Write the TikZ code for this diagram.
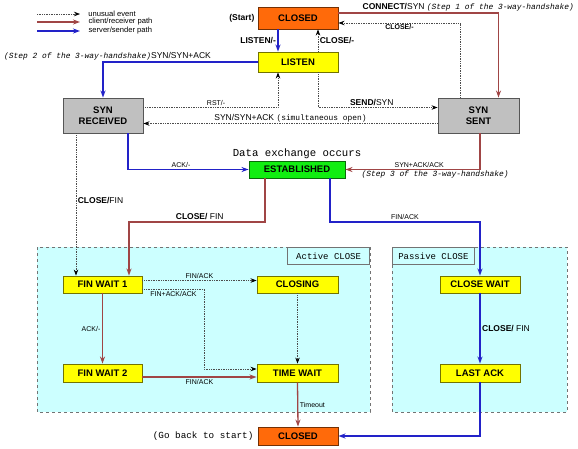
\documentclass[tikz,border=0pt]{standalone}
\usepackage{fontspec}
\setmainfont{Liberation Sans}
\setmonofont{Liberation Mono}
\usetikzlibrary{arrows.meta}

\definecolor{clientred}{HTML}{A04545}
\definecolor{serverblue}{HTML}{2222C8}
\definecolor{closedorange}{HTML}{FF6A0A}
\definecolor{stateyellow}{HTML}{FFFF00}
\definecolor{stategray}{HTML}{C0C0C0}
\definecolor{stategreen}{HTML}{11EE11}
\definecolor{zonecyan}{HTML}{CCFFFF}

\newcommand{\stepnote}[1]{{\ttfamily\itshape\fontsize{7.9}{9}\selectfont #1}}
\newcommand{\mononote}[1]{{\ttfamily\fontsize{7.9}{9}\selectfont #1}}

\tikzset{
  state/.style={draw=#1!45!black, fill=#1, line width=0.9pt, minimum width=80pt,
    minimum height=18pt, inner sep=1pt, align=center,
    font=\bfseries\fontsize{9.5}{11.5}\selectfont},
  unusual/.style={draw=black!70, densely dotted, line width=0.7pt,
    -{Stealth[length=6pt,width=4.5pt,black]}},
  client/.style={draw=clientred, line width=1.3pt, -{Stealth[length=7pt,width=5pt]}},
  server/.style={draw=serverblue, line width=1.3pt, -{Stealth[length=7pt,width=5pt]}},
  zone/.style={draw=black!55, dashed, fill=zonecyan, line width=0.7pt},
  zonetag/.style={draw=black!55, fill=zonecyan, line width=0.7pt, minimum width=82pt,
    minimum height=17pt, inner sep=2pt, font=\ttfamily\fontsize{9}{10}\selectfont},
  lbl/.style={inner sep=1.5pt, font=\fontsize{8.5}{10}\selectfont},
  slbl/.style={inner sep=1.5pt, font=\fontsize{7}{8}\selectfont},
  blbl/.style={inner sep=1.5pt, font=\bfseries\fontsize{8.5}{10}\selectfont},
  legend/.style={inner sep=1pt, font=\fontsize{7.6}{8}\selectfont}
}

\begin{document}
\begin{tikzpicture}[x=1pt,y=-1pt]
  \useasboundingbox (0,0) rectangle (578,448);
  % legend
  \draw[unusual] (37,14) -- (80,14) node[right, legend, xshift=7pt]{unusual event};
  \draw[client] (37,22) -- (80,22) node[right, legend, xshift=7pt]{client/receiver path};
  \draw[server] (37,31) -- (80,31) node[right, legend, xshift=7pt]{server/sender path};

  % close areas
  \draw[zone] (37,247) rectangle (370,412);
  \node[zonetag, anchor=north east] (activetag) at (370,247) {Active CLOSE};
  \draw[zone] (392,247) rectangle (567,412);
  \node[zonetag, anchor=north west] (passivetag) at (392,247) {Passive CLOSE};

  % states
  \node[state=closedorange, minimum height=22pt] (closed) at (298,18) {CLOSED};
  \node[state=stateyellow, minimum height=20pt] (listen) at (298,62) {LISTEN};
  \node[state=stategray, minimum height=35pt] (synrcvd) at (103,115.5) {SYN\\RECEIVED};
  \node[state=stategray, minimum height=35pt, minimum width=81pt] (synsent) at (478.5,115.5) {SYN\\SENT};
  \node[state=stategreen, minimum width=96pt, minimum height=17pt] (estab) at (297,169.5) {ESTABLISHED};
  \node[state=stateyellow, minimum width=79pt, minimum height=17pt] (finwaitone) at (102.5,284.5) {FIN WAIT 1};
  \node[state=stateyellow, minimum width=81pt, minimum height=17pt] (closing) at (297.5,284.5) {CLOSING};
  \node[state=stateyellow, minimum width=79pt] (finwaittwo) at (102.5,373) {FIN WAIT 2};
  \node[state=stateyellow, minimum width=81pt] (timewait) at (297.5,373) {TIME WAIT};
  \node[state=stateyellow, minimum height=17pt] (closewait) at (480,284.5) {CLOSE WAIT};
  \node[state=stateyellow] (lastack) at (480,373) {LAST ACK};
  \node[state=closedorange] (closedend) at (298,436) {CLOSED};

  \node[left, blbl, inner sep=3pt] (startnote) at (closed.west) {(Start)};
  \node[above, inner sep=1.5pt, font=\ttfamily\fontsize{10.7}{12}\selectfont] (datanote) at (estab.north) {Data exchange occurs};
  \node[left, inner sep=4pt, font=\ttfamily\fontsize{9.3}{11}\selectfont] (gobacknote) at (closedend.west) {(Go back to start)};

  % opening
  \draw[server] ([xshift=-20pt]closed.south) -- ([xshift=-20pt]listen.north) node[midway, left, blbl]{LISTEN/-};
  \draw[unusual] ([xshift=20pt]listen.north) -- ([xshift=20pt]closed.south) node[midway, right, blbl]{CLOSE/-};
  \draw[client] ([yshift=5pt]closed.east) -| ([xshift=20pt]synsent.north)
    node[pos=0.069, anchor=south west, lbl]{{\bfseries CONNECT/}SYN \stepnote{(Step 1 of the 3-way-handshake)}};
  \draw[unusual] ([xshift=-18pt]synsent.north) |- ([yshift=-5pt]closed.east)
    node[pos=0.75, below, slbl, font=\bfseries\fontsize{7}{8}\selectfont]{CLOSE/-};
  \draw[server] (listen.west) -| (synrcvd.north)
    node[pos=0.5, above, xshift=4.5pt, lbl]{\stepnote{(Step 2 of the 3-way-handshake)}SYN/SYN+ACK};
  \draw[unusual] ([yshift=8pt]synrcvd.east) -| ([xshift=-20pt]listen.south) node[pos=0.27, above, slbl]{RST/-};
  \draw[unusual] ([xshift=20pt]listen.south) |- ([yshift=8pt]synsent.west) node[pos=0.725, above, lbl]{{\bfseries SEND/}SYN};
  \draw[unusual] ([yshift=-8pt]synsent.west) -- ([yshift=-8pt]synrcvd.east)
    node[midway, above, lbl]{SYN/SYN+ACK \mononote{(simultaneous open)}};
  \draw[server] ([xshift=25pt]synrcvd.south) |- (estab.west) node[pos=0.72, above, slbl]{ACK/-};
  \draw[client] ([xshift=1.5pt]synsent.south) |- (estab.east)
    node[pos=0.726, above, slbl]{SYN+ACK/ACK}
    node[pos=0.667, below, inner sep=1pt]{\stepnote{(Step 3 of the 3-way-handshake)}};

  % closing
  \coordinate (splitlevel) at (0,222);
  \coordinate (rcvdout) at ([xshift=-27pt]synrcvd.south);
  \coordinate (finin) at ([xshift=26.5pt]finwaitone.north);
  \draw[unusual] (rcvdout) -- (rcvdout |- finwaitone.north) node[pos=0.47, right, lbl]{{\bfseries CLOSE/}FIN};
  \draw[client] ([xshift=-32pt]estab.south) |- (finin |- splitlevel)
    node[pos=0.74, above, lbl]{{\bfseries CLOSE/} FIN} -- (finin);
  \draw[server] ([xshift=33pt]estab.south) |- (closewait.north |- splitlevel)
    node[pos=0.75, above, slbl]{FIN/ACK} -- (closewait.north);
  \draw[unusual] ([yshift=4pt]finwaitone.east) -- ([yshift=4pt]closing.west) node[midway, above, slbl]{FIN/ACK};
  \draw[unusual] ([yshift=-5pt]finwaitone.east) -- ++(62pt,0) node[midway, below, slbl]{FIN+ACK/ACK}
    |- ([yshift=4pt]timewait.west);
  \draw[client] (finwaitone.south) -- (finwaittwo.north) node[midway, left, slbl]{ACK/-};
  \draw[client] ([yshift=-4pt]finwaittwo.east) -- ([yshift=-4pt]timewait.west) node[midway, below, slbl]{FIN/ACK};
  \draw[unusual] (closing.south) -- (timewait.north);
  \draw[client] (timewait.south) -- (closedend.north) node[midway, right, slbl]{Timeout};
  \draw[server] (closewait.south) -- (lastack.north) node[midway, right, lbl]{{\bfseries CLOSE/} FIN};
  \draw[server] (lastack.south) |- (closedend.east);
\end{tikzpicture}
\end{document}
